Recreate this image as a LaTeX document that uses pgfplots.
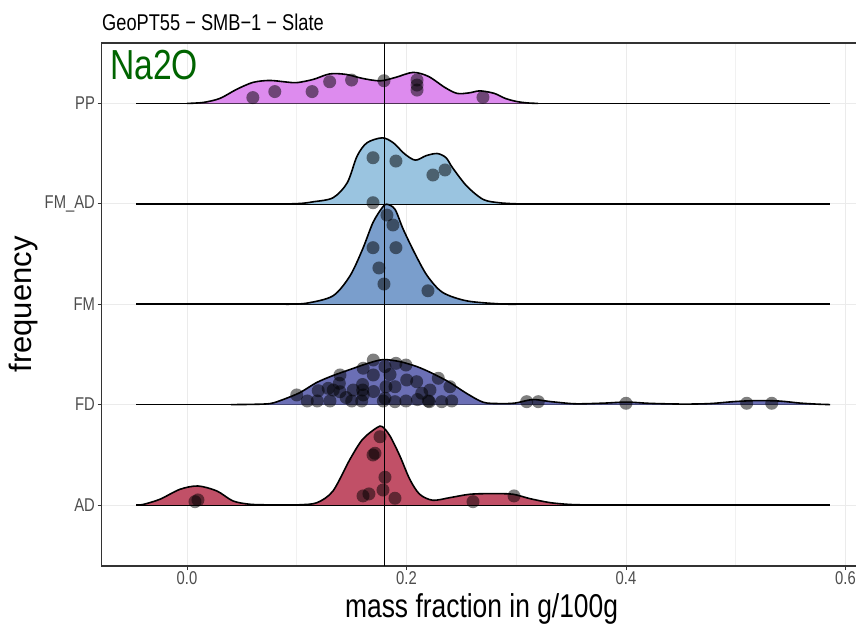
\documentclass[border=0pt]{standalone}
\usepackage{fontspec}
\setmainfont{Liberation Sans}[FakeStretch=0.8]
\newfontfamily\ylfont{Liberation Sans}
\usepackage{pgfplots}
\pgfplotsset{compat=1.18}
\definecolor{ppc}{HTML}{DD8BEE}
\definecolor{fmadc}{HTML}{9AC4E0}
\definecolor{fmc}{HTML}{7A9ECC}
\definecolor{fdc}{HTML}{6B6FB5}
\definecolor{adc}{HTML}{C15067}
\definecolor{gridgray}{HTML}{EBEBEB}
\definecolor{axgray}{HTML}{333333}
\definecolor{labgray}{HTML}{4D4D4D}
\definecolor{titlegreen}{HTML}{006400}

\begin{document}
\begin{tikzpicture}
\begin{axis}[
  scale only axis, width=760pt, height=523pt,
  xmin=-0.0778, xmax=0.6147, ymin=0.392, ymax=5.602,
  xtick={0,0.2,0.4,0.6}, xticklabels={0.0,0.2,0.4,0.6},
  minor xtick={0.1,0.3,0.5},
  ytick={1,2,3,4,5}, yticklabels={AD,FD,FM,FM\_AD,PP},
  grid=both,
  major grid style={color=gridgray, line width=0.9pt},
  minor grid style={color=gridgray!70, line width=0.6pt},
  tick align=outside, major tick length=4pt, minor tick length=0pt,
  xtick pos=bottom, ytick pos=left,
  tick style={color=axgray, line width=0.8pt},
  axis line style={color=axgray, line width=1.2pt},
  ticklabel style={font=\fontsize{18.5}{21}\selectfont, text=labgray},
  xticklabel style={inner sep=1pt},
  yticklabel style={inner sep=2.5pt},
  /pgf/number format/assume math mode=true,
  ridge/.style={draw=black, line width=1.6pt, smooth},
  base/.style={black, line width=1.6pt},
]
% ridges, top to bottom
\addplot[base] coordinates {(-0.046,5) (0.586,5)};
\addplot[ridge, fill=ppc] coordinates {
  (0.0,5) (0.015,5.01) (0.03,5.05) (0.045,5.139) (0.06,5.209)
  (0.075,5.229) (0.09,5.214) (0.10,5.207) (0.115,5.239) (0.13,5.294)
  (0.145,5.289) (0.16,5.249) (0.176,5.225) (0.19,5.259) (0.206,5.309)
  (0.22,5.269) (0.235,5.159) (0.246,5.10) (0.257,5.105) (0.267,5.125)
  (0.28,5.10) (0.29,5.05) (0.30,5.02) (0.31,5.005) (0.32,5)
};
\addplot[base] coordinates {(-0.046,4) (0.586,4)};
\addplot[ridge, fill=fmadc] coordinates {
  (0.095,4) (0.105,4.005) (0.115,4.02) (0.133,4.06) (0.146,4.209)
  (0.155,4.475) (0.164,4.608) (0.178,4.657) (0.188,4.608) (0.198,4.50)
  (0.208,4.435) (0.218,4.48) (0.228,4.501) (0.236,4.46) (0.242,4.359)
  (0.255,4.176) (0.270,4.043) (0.285,4.01) (0.30,4)
};
\addplot[base] coordinates {(-0.046,3) (0.586,3)};
\addplot[ridge, fill=fmc] coordinates {
  (0.09,3) (0.109,3.01) (0.133,3.083) (0.1485,3.282) (0.160,3.548)
  (0.1695,3.814) (0.178,3.963) (0.182,3.996) (0.1895,3.946) (0.197,3.747)
  (0.208,3.498) (0.219,3.282) (0.233,3.117) (0.255,3.033) (0.285,3.003)
  (0.30,3)
};
\addplot[base] coordinates {(-0.046,2) (0.586,2)};
\addplot[ridge, fill=fdc] coordinates {
  (0.04,2) (0.0574,2.002) (0.0756,2.01) (0.0875,2.05) (0.103,2.12)
  (0.118,2.219) (0.133,2.289) (0.1485,2.349) (0.164,2.408) (0.1786,2.448)
  (0.194,2.428) (0.2096,2.378) (0.224,2.309) (0.2396,2.219) (0.255,2.11)
  (0.27,2.023) (0.285,2.01) (0.299,2.015) (0.315,2.05) (0.331,2.03)
  (0.35,2.01) (0.361,2.008) (0.381,2.015) (0.401,2.025) (0.422,2.012)
  (0.452,2.005) (0.4765,2.01) (0.499,2.03) (0.52,2.04) (0.54,2.035)
  (0.5585,2.015) (0.575,2.004) (0.586,2)
};
\addplot[base] coordinates {(-0.046,1) (0.586,1)};
\addplot[ridge, fill=adc] coordinates {
  (-0.046,1) (-0.04,1.005) (-0.0246,1.057) (-0.0064,1.156) (0.010,1.189)
  (0.0273,1.139) (0.0419,1.04) (0.0574,1.007) (0.075,1.001) (0.09,1)
  (0.103,1.002) (0.1185,1.023) (0.133,1.139) (0.1485,1.455) (0.160,1.654)
  (0.173,1.77) (0.178,1.78) (0.185,1.687) (0.194,1.488) (0.203,1.256)
  (0.212,1.107) (0.224,1.047) (0.2396,1.073) (0.258,1.107) (0.279,1.113)
  (0.297,1.107) (0.3125,1.063) (0.331,1.023) (0.349,1.005) (0.367,1)
};
% jittered points
\addplot[only marks, mark=*, mark size=6.5pt,
  mark options={draw=none, draw opacity=0, fill=black, fill opacity=0.5}] coordinates {
  % PP
  (0.060,5.058) (0.080,5.118) (0.114,5.118) (0.130,5.216) (0.150,5.233)
  (0.1795,5.226) (0.2096,5.233) (0.2096,5.183) (0.2096,5.133) (0.2697,5.061)
  % FM_AD
  (0.1695,4.459) (0.1904,4.426) (0.2241,4.287) (0.2351,4.337) (0.1695,4.011)
  % FM
  (0.1822,3.888) (0.1877,3.789) (0.1695,3.563) (0.1904,3.563) (0.1749,3.361)
  (0.1795,3.201) (0.2196,3.134)
  % FD
  (0.100,2.096) (0.1096,2.036) (0.1187,2.036) (0.1196,2.138) (0.1303,2.036)
  (0.1287,2.162) (0.1333,2.145) (0.1394,2.295) (0.1388,2.212) (0.1394,2.128)
  (0.1501,2.036) (0.1515,2.145) (0.1601,2.145) (0.1606,2.362) (0.1592,2.036)
  (0.1606,2.096) (0.1698,2.444) (0.1698,2.295) (0.1789,2.036) (0.1804,2.063)
  (0.1804,2.378) (0.1813,2.178) (0.1895,2.029) (0.1895,2.178) (0.1904,2.411)
  (0.1995,2.036) (0.1995,2.394) (0.2002,2.245) (0.2093,2.228) (0.2139,2.113)
  (0.2199,2.036) (0.2208,2.029) (0.2214,2.145) (0.2290,2.262) (0.2321,2.029)
  (0.2396,2.178) (0.2412,2.036) (0.1450,2.070) (0.1700,2.130) (0.1850,2.300)
  (0.2100,2.050) (0.1600,2.200)
  (0.3095,2.029) (0.3201,2.029) (0.4000,2.013) (0.510,2.013) (0.5328,2.013)
  % AD
  (0.0073,1.033) (0.010,1.050) (0.1759,1.680) (0.1713,1.515) (0.1695,1.498)
  (0.1804,1.276) (0.1786,1.149) (0.1604,1.090) (0.1658,1.110) (0.1895,1.067)
  (0.2606,1.033) (0.298,1.090)
};
% reference value
\addplot[black, line width=1.2pt] coordinates {(0.18,0.392) (0.18,5.602)};
\coordinate (tl) at (rel axis cs:0,1);
\coordinate (bl) at (rel axis cs:0,0);
\coordinate (ml) at (rel axis cs:0,0.5);
\coordinate (bc) at (rel axis cs:0.5,0);
\end{axis}
\node[anchor=base west, inner sep=0, text=titlegreen,
  font=\fontsize{42}{44}\selectfont] at ([xshift=8.4pt, yshift=-37pt]tl) {Na2O};
\node[anchor=base west, inner sep=0, font=\fontsize{22.8}{24}\selectfont]
  at ([xshift=0.4pt, yshift=12pt]tl) {GeoPT55 − SMB−1 − Slate};
\node[anchor=center, rotate=90, inner sep=0, font=\ylfont\fontsize{31}{33}\selectfont]
  at ([xshift=-77.6pt]ml) {frequency};
\node[anchor=base, inner sep=0, font=\fontsize{33}{35}\selectfont]
  at ([yshift=-51pt]bc) {mass fraction in g/100g};
\pgfresetboundingbox
\path[use as bounding box] ([xshift=-101.6pt, yshift=-57pt]bl) rectangle ([xshift=754.4pt, yshift=43pt]tl);
\end{tikzpicture}
\end{document}
